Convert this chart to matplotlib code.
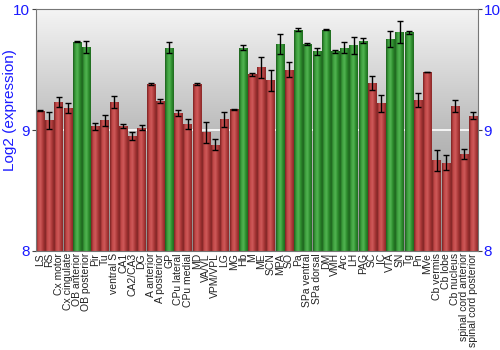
import numpy as np
import matplotlib
matplotlib.use("Agg")
import matplotlib.pyplot as plt
from matplotlib.colors import LinearSegmentedColormap

plt.rcParams["font.family"] = ["Liberation Sans", "DejaVu Sans"]

regions = ["LS", "RS", "Cx motor", "Cx cingulate", "OB anterior", "OB posterior",
           "Pir", "Tu", "ventral S", "CA1", "CA2/CA3", "DG", "A anterior",
           "A posterior", "GP", "CPu lateral", "CPu medial", "MD", "VA/VL",
           "VPM/VPL", "LG", "MG", "Hb", "M", "ME", "SCN", "MPA", "SO", "Pa",
           "SPa ventral", "SPa dorsal", "DM", "VMH", "Arc", "LH", "PAG", "SC",
           "IC", "VTA", "SN", "Tg", "Pn", "MVe", "Cb vermis", "Cb lobe",
           "Cb nucleus", "spinal cord anterior", "spinal cord posterior"]

expr = [9.16, 9.08, 9.23, 9.18, 9.73, 9.69, 9.03, 9.08, 9.23, 9.03, 8.95, 9.02,
        9.38, 9.24, 9.68, 9.14, 9.05, 9.38, 8.98, 8.88, 9.09, 9.17, 9.68, 9.46,
        9.52, 9.41, 9.71, 9.50, 9.83, 9.71, 9.65, 9.83, 9.65, 9.68, 9.70, 9.74,
        9.39, 9.22, 9.75, 9.81, 9.81, 9.25, 9.48, 8.75, 8.73, 9.20, 8.80, 9.12]

err = [0.005, 0.07, 0.04, 0.04, 0.005, 0.05, 0.03, 0.047, 0.05, 0.017, 0.035, 0.02,
       0.01, 0.02, 0.045, 0.023, 0.04, 0.01, 0.088, 0.043, 0.062, 0.005, 0.02, 0.015,
       0.088, 0.09, 0.08, 0.06, 0.015, 0.008, 0.03, 0.005, 0.01, 0.045, 0.07, 0.018,
       0.06, 0.07, 0.065, 0.09, 0.013, 0.06, 0.003, 0.088, 0.06, 0.052, 0.04, 0.026]

# regions flagged as enriched are drawn green, the rest red
enriched = {"OB anterior", "OB posterior", "GP", "Hb", "MPA", "Pa", "SPa ventral",
            "SPa dorsal", "DM", "VMH", "Arc", "LH", "PAG", "VTA", "SN", "Tg"}

ymin, ymax = 8, 10
blue = "#1a1aff"

fig = plt.figure(figsize=(5, 3.5), dpi=100)
ax = fig.add_axes([0.071, 0.283, 0.885, 0.691])

x = np.arange(len(regions))
ax.set_xlim(-0.5, len(regions) - 0.5)
ax.set_ylim(ymin, ymax)

# grey background gradient
bg = LinearSegmentedColormap.from_list("bg", ["#8c8c8c", "#bcbcbc", "#f4f4f4"])
grad = np.linspace(0, 1, 256).reshape(-1, 1)
ax.imshow(grad, cmap=bg, aspect="auto", origin="lower",
          extent=(-0.5, len(regions) - 0.5, ymin, ymax), zorder=0)
ax.axhline(9, color="white", lw=1.2, zorder=1)

red_cm = LinearSegmentedColormap.from_list(
    "red", ["#7a2222", "#c24848", "#cf5a5a", "#b03c3c", "#8a2828"])
green_cm = LinearSegmentedColormap.from_list(
    "green", ["#1c5f1c", "#3c9e3c", "#52b452", "#2f8f2f", "#1f6a1f"])
hgrad = np.linspace(0, 1, 64).reshape(1, -1)

bars = ax.bar(x, [v - ymin for v in expr], bottom=ymin, width=0.9,
              color="none", edgecolor="none", zorder=2)
for name, b in zip(regions, bars):
    cm = green_cm if name in enriched else red_cm
    x0, y0 = b.get_x(), b.get_y()
    im = ax.imshow(hgrad, cmap=cm, aspect="auto",
                   extent=(x0, x0 + b.get_width(), y0, y0 + b.get_height()),
                   zorder=2)
    im.set_clip_path(b)

ax.errorbar(x, expr, yerr=err, fmt="none", ecolor="black", elinewidth=1,
            capsize=2.2, capthick=1, zorder=3)

ax.set_xticks(x)
ax.set_xticklabels(regions, rotation=90, fontsize=7.5, color="#222222")
ax.tick_params(axis="x", length=0, pad=1.5)

ax.set_yticks([8, 9, 10])
ax.tick_params(axis="y", colors="#444444", labelcolor=blue, labelsize=11,
               length=3, pad=1, right=True, labelright=True)

# axis title sits a little above the middle of the axis
fig.text(0.021, 0.686, "Log2 (expression)", color=blue, fontsize=11,
         rotation=90, ha="center", va="center")

for s in ax.spines.values():
    s.set_color("#777777")

fig.savefig("out.png", dpi=100)
